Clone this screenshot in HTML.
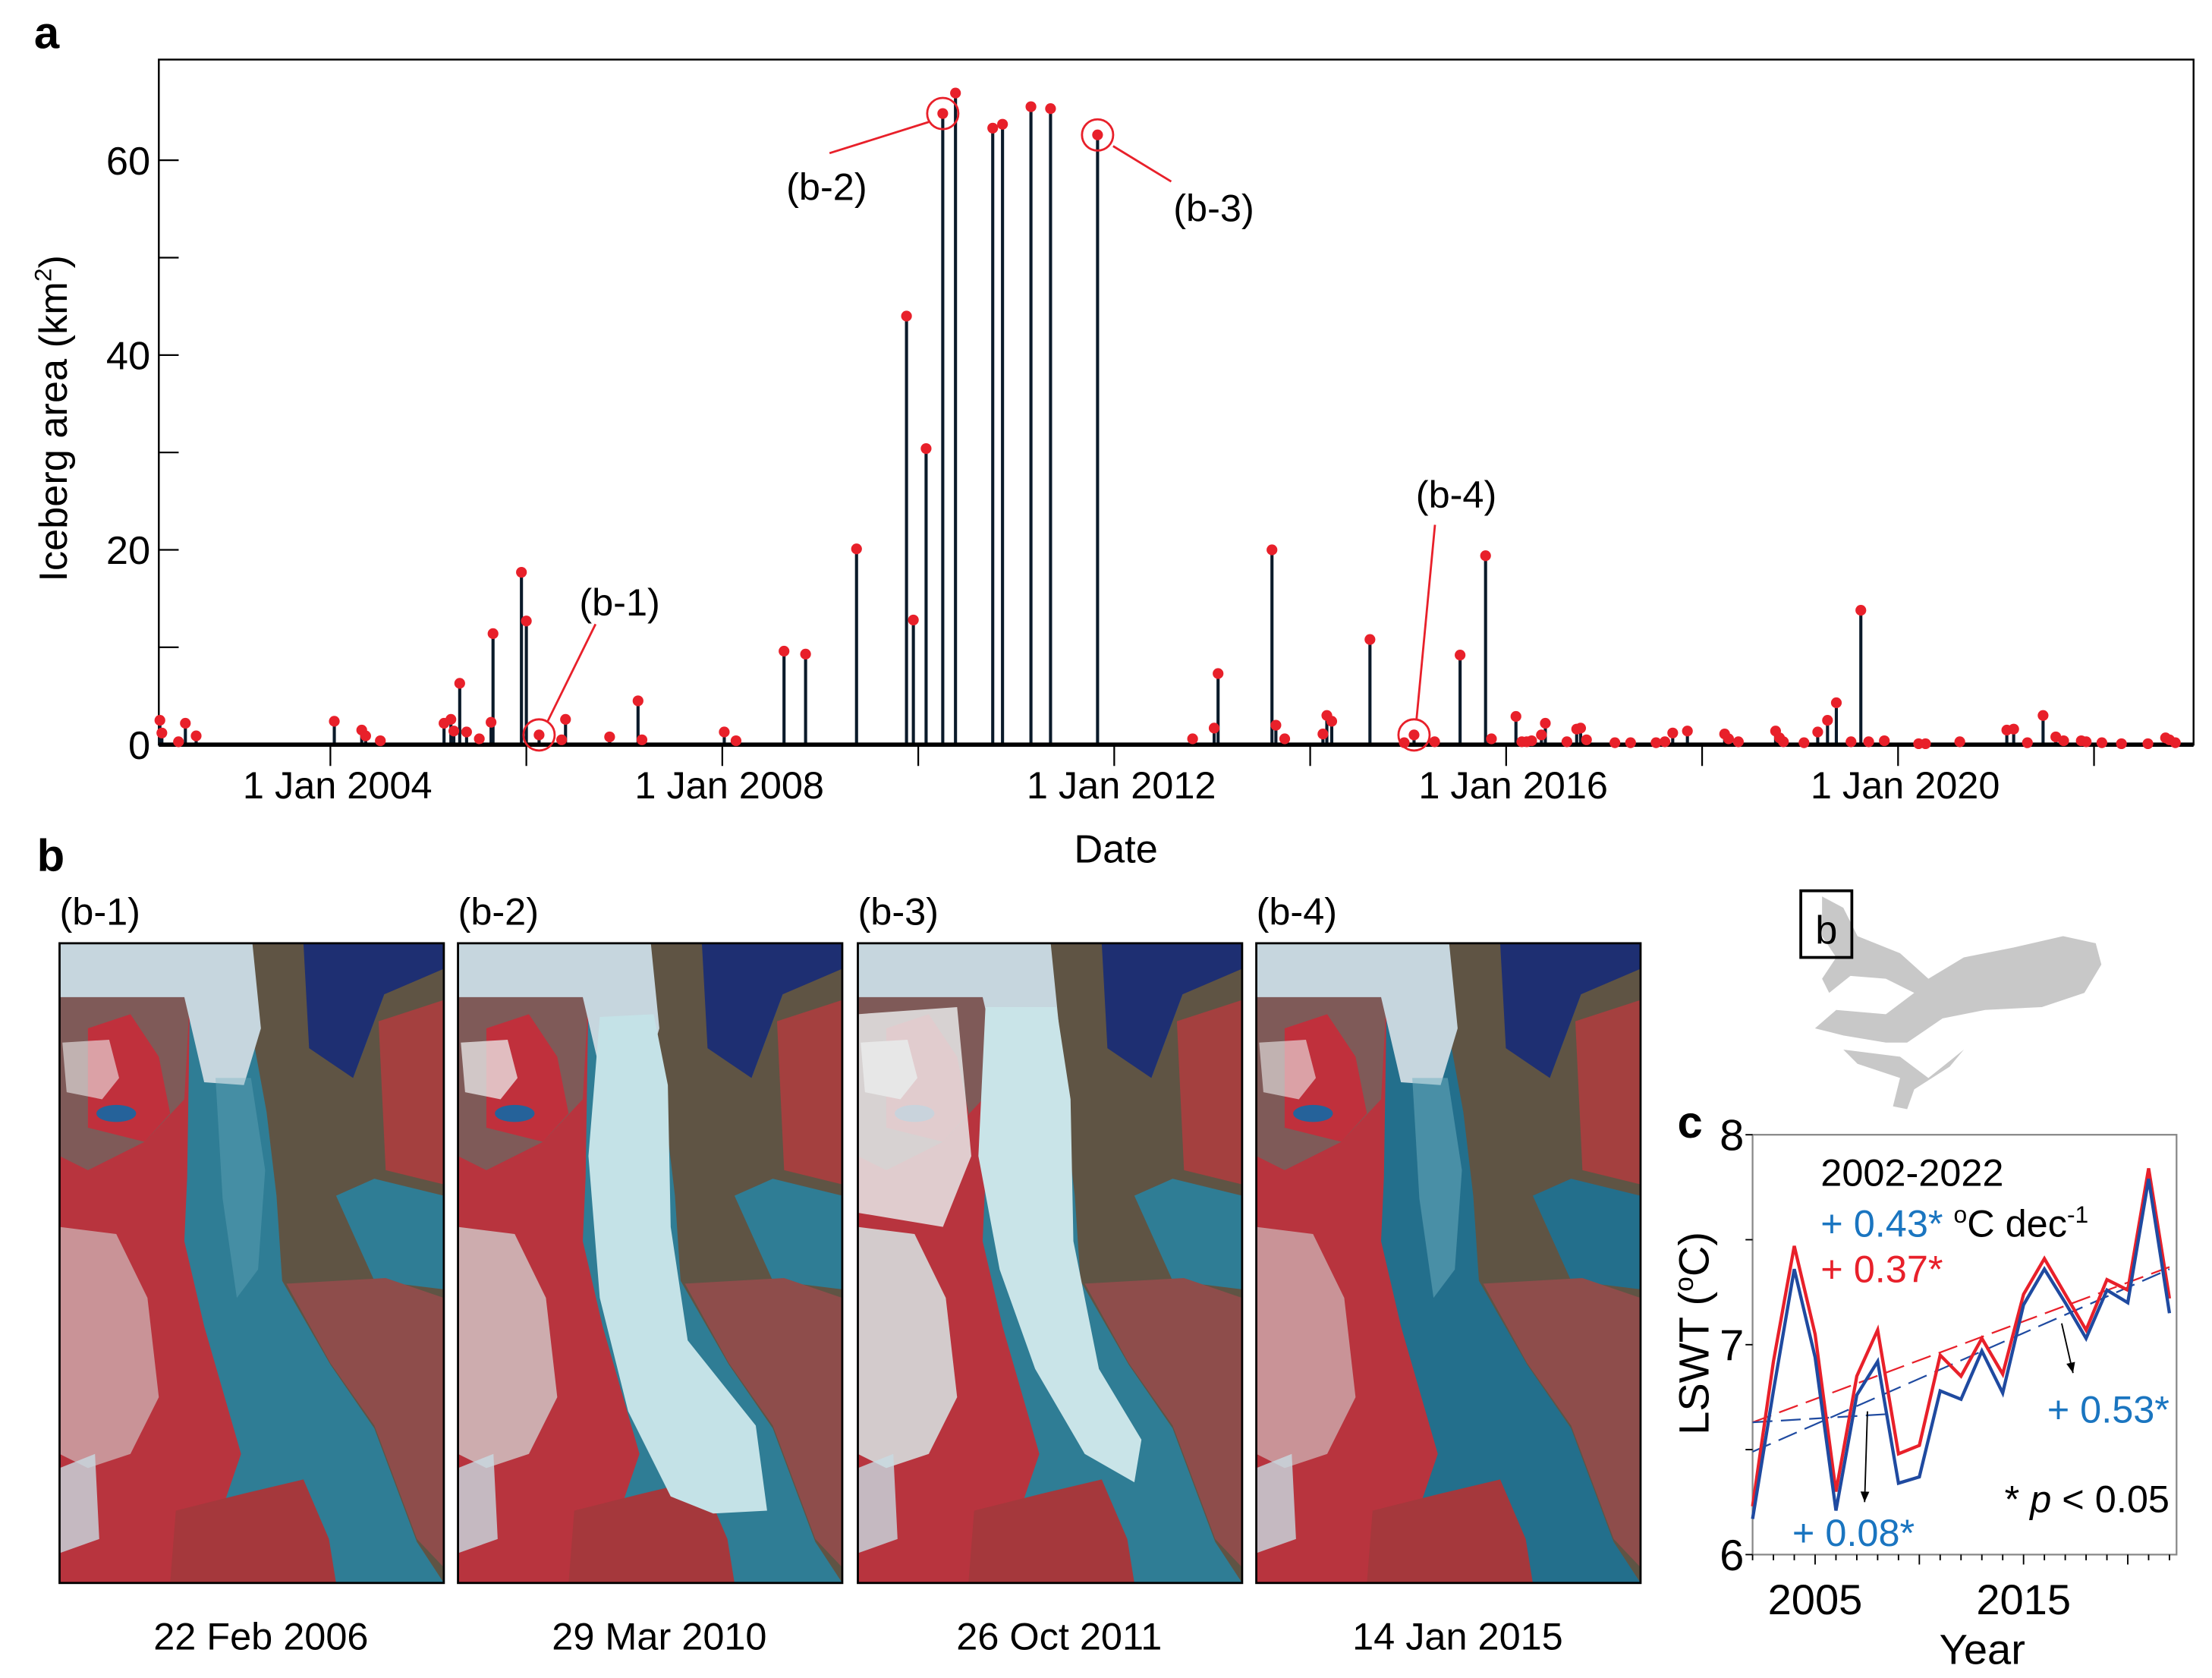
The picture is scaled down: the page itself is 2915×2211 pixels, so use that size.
<!DOCTYPE html>
<html><head><meta charset="utf-8"><style>
html,body{margin:0;padding:0;background:#fff}
svg{display:block;font-family:"Liberation Sans",Arial,sans-serif}
</style></head><body>
<svg id="fig" width="2915" height="2211" viewBox="0 0 1560 1183" preserveAspectRatio="none" xmlns="http://www.w3.org/2000/svg">
<g id="pa"></g>
<g id="pb"></g>
<g id="pc"></g>
</svg>
<script>
// ---- Panel a data ----
const stemYears = [2002.26,2002.28,2002.45,2002.52,2002.63,2004.04,2004.32,2004.36,2004.51,2005.16,2005.23,2005.26,2005.32,2005.39,2005.52,2005.64,2005.66,2005.95,2006.00,2006.13,2006.36,2006.40,2006.85,2007.14,2007.18,2008.02,2008.14,2008.63,2008.85,2009.37,2009.88,2009.95,2010.08,2010.25,2010.38,2010.76,2010.86,2011.15,2011.35,2011.83,2012.80,2013.02,2013.06,2013.61,2013.65,2013.74,2014.13,2014.17,2014.22,2014.61,2014.96,2015.06,2015.27,2015.53,2015.79,2015.85,2016.10,2016.16,2016.21,2016.26,2016.36,2016.40,2016.62,2016.72,2016.76,2016.82,2017.11,2017.27,2017.53,2017.62,2017.70,2017.85,2018.23,2018.27,2018.37,2018.75,2018.79,2018.83,2019.04,2019.18,2019.28,2019.37,2019.52,2019.62,2019.70,2019.86,2020.21,2020.28,2020.63,2021.11,2021.18,2021.32,2021.48,2021.61,2021.69,2021.87,2021.92,2022.08,2022.28,2022.55,2022.73,2022.77,2022.83];
const stemAreas = [2.5,1.2,0.3,2.2,0.9,2.4,1.5,0.9,0.4,2.2,2.6,1.4,6.3,1.3,0.6,2.3,11.4,17.7,12.7,1.0,0.5,2.6,0.8,4.5,0.5,1.3,0.4,9.6,9.3,20.1,44,12.8,30.4,64.8,66.9,63.3,63.7,65.5,65.3,62.6,0.6,1.7,7.3,20.0,2.0,0.6,1.1,3.0,2.4,10.8,0.2,1.0,0.3,9.2,19.4,0.6,2.9,0.3,0.3,0.4,1.0,2.2,0.3,1.6,1.7,0.5,0.2,0.2,0.2,0.3,1.2,1.4,1.1,0.6,0.3,1.4,0.7,0.3,0.2,1.3,2.5,4.3,0.3,13.8,0.3,0.4,0.1,0.1,0.3,1.5,1.6,0.2,3.0,0.8,0.4,0.4,0.3,0.2,0.1,0.1,0.7,0.5,0.2];
const yTicksA = [0,10,20,30,40,50,60];
const yLabelsA = ["0","","20","","40","","60"];
const xTickYearsA = [2004,2006,2008,2010,2012,2014,2016,2018,2020,2022];
const xLabelsA = ["1 Jan 2004","","1 Jan 2008","","1 Jan 2012","","1 Jan 2016","","1 Jan 2020",""];
const calloutYears = [2006.13,2010.25,2011.83,2015.06];
const calloutLabels = ["(b-1)","(b-2)","(b-3)","(b-4)"];

// ---- Panel c data ----
const lsYears = [2002,2003,2004,2005,2006,2007,2008,2009,2010,2011,2012,2013,2014,2015,2016,2017,2018,2019,2020,2021,2022];
const redSeries = [6.23,6.92,7.47,7.05,6.30,6.85,7.07,6.48,6.52,6.95,6.85,7.03,6.86,7.24,7.41,7.24,7.07,7.31,7.26,7.84,7.22];
const blueSeries = [6.17,6.78,7.36,6.94,6.21,6.76,6.92,6.34,6.37,6.78,6.74,6.97,6.77,7.19,7.36,7.20,7.03,7.26,7.20,7.79,7.15];
const redTrend = [[2002,6.63],[2022,7.37]];
const blueTrend = [[2002,6.49],[2022,7.36]];
const blueTrendEarly = [[2002,6.63],[2008.6,6.67]];
const yTicksC = [6,6.5,7,7.5,8];
const yLabelsC = ["6","","7","","8"];
const xLabelYearsC = [2005,2015];

const NS="http://www.w3.org/2000/svg";
function mk(parent,tag,attrs,text){const e=document.createElementNS(NS,tag);for(const k in attrs)e.setAttribute(k,attrs[k]);if(text!==undefined)e.textContent=text;parent.appendChild(e);return e;}

// ===== Panel a =====
const pa=document.getElementById('pa');
const aL=112,aR=1547,aT=42,aB=525;
const xa=y=>233+(y-2004)*69.1;
const ya=v=>aB-v*6.867;
let e;
e=mk(pa,'text',{x:24,y:34,'font-size':32,'font-weight':'bold'},'a');

e=mk(pa,'rect',{x:aL,y:aT,width:aR-aL,height:aB-aT,fill:'none',stroke:'#000','stroke-width':1.3});

yTicksA.forEach((t,i)=>{
  const l=mk(pa,'line',{x1:aL,x2:aL+14,y1:ya(t),y2:ya(t),stroke:'#000','stroke-width':1.2});
  
  if(yLabelsA[i]){const tx=mk(pa,'text',{x:106,y:ya(t)+10,'font-size':28,'text-anchor':'end'},yLabelsA[i]);
  }
});
xTickYearsA.forEach((t,i)=>{
  const l=mk(pa,'line',{x1:xa(t),x2:xa(t),y1:aB,y2:aB+15,stroke:'#000','stroke-width':1.2});
  
  if(xLabelsA[i]){const tx=mk(pa,'text',{x:xa(t)+5,y:563,'font-size':27,'text-anchor':'middle'},xLabelsA[i]);
  }
});
e=mk(pa,'text',{x:787,y:608,'font-size':28,'text-anchor':'middle'},'Date');

e=mk(pa,'text',{transform:'translate(47,295) rotate(-90)','font-size':28,'text-anchor':'middle'});

e.innerHTML='Iceberg area (km<tspan font-size="17" dy="-11">2</tspan><tspan dy="11">)</tspan>';
stemYears.forEach((yr,i)=>{
  const s=mk(pa,'line',{x1:xa(yr),x2:xa(yr),y1:aB,y2:ya(stemAreas[i]),stroke:'#0a1a2a','stroke-width':2.2});
  
});
e=mk(pa,'line',{x1:aL,x2:aR,y1:aB,y2:aB,stroke:'#000','stroke-width':3});

stemYears.forEach((yr,i)=>{
  const d=mk(pa,'circle',{cx:xa(yr),cy:ya(stemAreas[i]),r:3.8,fill:'#e8202a'});
  
});
const callTxt=[[437,434],[583,141],[856,156],[1027,358]];
const callLine=[[420,440,386,509],[585,108,655,86],[785,103,826,128],[1012,370,999,507]];
calloutYears.forEach((yr,i)=>{
  const v=stemAreas[stemYears.indexOf(yr)];
  const c=mk(pa,'circle',{cx:xa(yr),cy:ya(v),r:11,fill:'none',stroke:'#e8202a','stroke-width':1.5});
  
  const l=mk(pa,'line',{x1:callLine[i][0],y1:callLine[i][1],x2:callLine[i][2],y2:callLine[i][3],stroke:'#e8202a','stroke-width':1.5});
  
  const t=mk(pa,'text',{x:callTxt[i][0],y:callTxt[i][1],'font-size':27,'text-anchor':'middle'},calloutLabels[i]);
  
});

// ===== Panel b =====
const pb=document.getElementById('pb');
e=mk(pb,'text',{x:26,y:614,'font-size':32,'font-weight':'bold'},'b');

const imgX=[42,323,605,886];
const imgDates=["22 Feb 2006","29 Mar 2010","26 Oct 2011","14 Jan 2015"];
const defs=mk(document.getElementById('fig'),'defs',{});
imgX.forEach((x0,i)=>{
  const cp=mk(defs,'clipPath',{id:'cl'+i});mk(cp,'rect',{x:0,y:0,width:271,height:451});
  const g=mk(pb,'g',{transform:`translate(${x0},665)`,'clip-path':`url(#cl${i})`});
  
  mk(g,'rect',{x:0,y:0,width:271,height:451,fill:i===3?'#236f8c':'#2f7d95'});
  // left red land
  mk(g,'polygon',{points:'0,36 92,36 90,165 88,210 102,270 128,360 104,430 98,451 0,451',fill:'#b8343e'});
  mk(g,'polygon',{points:'0,36 92,36 88,110 60,140 20,160 0,150',fill:'#7f5a58'});
  mk(g,'polygon',{points:'20,60 50,50 70,80 78,120 60,140 20,130',fill:'#c0303c'});
  mk(g,'ellipse',{cx:40,cy:120,rx:14,ry:6,fill:'#25629a'});
  // snow / cloud on left
  const snowOp=i===2?0.95:(i===1?0.75:0.6);
  mk(g,'polygon',{points:'2,70 35,68 42,95 30,110 5,105',fill:'#ececec',opacity:snowOp});
  mk(g,'polygon',{points:'0,200 40,205 62,250 70,320 50,360 20,370 0,360',fill:'#d4d4d4',opacity:snowOp});
  mk(g,'polygon',{points:'0,370 25,360 28,420 0,430',fill:'#c8dbe2',opacity:0.8});
  if(i===2) mk(g,'polygon',{points:'0,50 70,45 80,150 60,200 0,190',fill:'#e6e8e8',opacity:0.85});
  // bottom island
  mk(g,'polygon',{points:'82,400 130,388 172,378 190,420 195,451 78,451',fill:'#a5383c'});
  // right brown land
  mk(g,'polygon',{points:'136,0 172,0 176,30 207,95 229,36 271,0 271,451 252,422 222,342 191,297 157,238 153,178 146,119 135,59',fill:'#5f5444'});
  mk(g,'polygon',{points:'172,0 271,0 271,18 229,36 207,95 176,74',fill:'#1e2f72'});
  mk(g,'polygon',{points:'195,178 222,166 271,178 271,244 222,238',fill:i===3?'#236f8c':'#2f7d95'});
  mk(g,'polygon',{points:'160,240 230,236 271,250 271,440 252,420 222,340 191,296',fill:'#8e4d4b'});
  mk(g,'polygon',{points:'225,55 271,40 271,170 230,160',fill:'#a4403f'});
  // glacier at top
  mk(g,'polygon',{points:'0,0 136,0 142,60 130,100 102,98 88,38 0,38',fill:'#c6d6de'});
  // ice melange
  if(i===1){
    mk(g,'polygon',{points:'100,52 138,50 148,100 150,200 162,280 210,340 218,400 180,402 150,390 120,330 100,250 92,150',fill:'#c4e2e7'});
  } else if(i===2){
    mk(g,'polygon',{points:'90,45 140,45 150,110 152,210 170,300 200,350 195,380 160,360 125,300 100,230 85,150',fill:'#c9e4e8'});
  } else {
    mk(g,'polygon',{points:'110,95 135,95 145,160 140,230 125,250 115,180',fill:'#6fb0c0',opacity:i===0?0.35:0.5});
  }
  const fr=mk(pb,'rect',{x:x0,y:665,width:271,height:451,fill:'none',stroke:'#000','stroke-width':1.5});
  
  const lt=mk(pb,'text',{x:x0,y:652,'font-size':27},calloutLabels[i]);
  
  const dt=mk(pb,'text',{x:x0+142,y:1163,'font-size':27,'text-anchor':'middle'},imgDates[i]);
  
});
// inset map
e=mk(pb,'path',{d:'M1285,632 L1300,640 L1310,660 L1340,672 L1360,690 L1385,675 L1420,668 L1455,660 L1478,665 L1482,680 L1470,700 L1440,710 L1400,712 L1370,718 L1345,735 L1330,735 L1300,730 L1280,725 L1295,712 L1330,715 L1350,700 L1330,690 L1305,688 L1290,700 L1285,690 L1295,675 L1285,660 Z M1300,740 L1340,745 L1360,760 L1385,740 L1375,752 L1350,768 L1345,782 L1335,780 L1340,760 L1310,750 Z',fill:'#c8c8c8'});

e=mk(pb,'rect',{x:1270,y:628,width:36,height:47,fill:'none',stroke:'#000','stroke-width':2});

e=mk(pb,'text',{x:1288,y:665,'font-size':28,'text-anchor':'middle'},'b');


// ===== Panel c =====
const pc=document.getElementById('pc');
const cL=1236,cR=1535,cT=800,cB=1096;
const xc=y=>cL+(y-2002)*14.7;
const yc=v=>cB-(v-6)*148;
e=mk(pc,'text',{x:1183,y:802,'font-size':32,'font-weight':'bold'},'c');

e=mk(pc,'rect',{x:cL,y:cT,width:cR-cL,height:cB-cT,fill:'none',stroke:'#888','stroke-width':1.2});

yTicksC.forEach((t,i)=>{
  const l=mk(pc,'line',{x1:cL-5,x2:cL,y1:yc(t),y2:yc(t),stroke:'#000','stroke-width':1});
  
  if(yLabelsC[i]){const tx=mk(pc,'text',{x:cL-6,y:yc(t)+11,'font-size':31,'text-anchor':'end'},yLabelsC[i]);
  }
});
lsYears.forEach(yr=>{
  const l=mk(pc,'line',{x1:xc(yr),x2:xc(yr),y1:cB,y2:cB+(yr%5===0?7:4),stroke:'#000','stroke-width':1});
  
});
xLabelYearsC.forEach(yr=>{
  const tx=mk(pc,'text',{x:xc(yr),y:1138,'font-size':30,'text-anchor':'middle'},String(yr));
  
});
e=mk(pc,'text',{x:1398,y:1173,'font-size':30,'text-anchor':'middle'},'Year');

e=mk(pc,'text',{transform:'translate(1205,940) rotate(-90)','font-size':30,'text-anchor':'middle'});

e.innerHTML='LSWT (<tspan font-size="19" dy="-11">o</tspan><tspan dy="11">C)</tspan>';
function trend(pts,color,name,dash){
  const l=mk(pc,'line',{x1:xc(pts[0][0]),y1:yc(pts[0][1]),x2:xc(pts[1][0]),y2:yc(pts[1][1]),stroke:color,'stroke-width':1.2,'stroke-dasharray':dash});
  
}
trend(redTrend,'#e8202a','red-trend-line','14,6');
trend(blueTrend,'#1f4aa0','blue-trend-line','14,6');
trend(blueTrendEarly,'#1f4aa0','blue-trend-early','14,6');
function series(vals,color,name){
  const p=mk(pc,'polyline',{points:vals.map((v,i)=>xc(lsYears[i])+','+yc(v)).join(' '),fill:'none',stroke:color,'stroke-width':2.3});
  
}
series(redSeries,'#e8202a','red-lswt-line');
series(blueSeries,'#1f4aa0','blue-lswt-line');
const ar=[[1317,995,1315,1059],[1454,933,1462,968]];
ar.forEach(a=>{
  const l=mk(pc,'line',{x1:a[0],y1:a[1],x2:a[2],y2:a[3],stroke:'#000','stroke-width':1});
  
  const ang=Math.atan2(a[3]-a[1],a[2]-a[0]);
  const p=[[a[2],a[3]],[a[2]-8*Math.cos(ang-0.4),a[3]-8*Math.sin(ang-0.4)],[a[2]-8*Math.cos(ang+0.4),a[3]-8*Math.sin(ang+0.4)]];
  const h=mk(pc,'polygon',{points:p.map(q=>q.join(',')).join(' '),fill:'#000'});
  
});
function txt(x,y,s,fill,anchor,name,html){
  const t=mk(pc,'text',{x:x,y:y,'font-size':27,fill:fill,'text-anchor':anchor});
  if(html)t.innerHTML=s;else t.textContent=s;
  
}
txt(1284,836,'2002-2022','#000','start','period-label');
txt(1284,872,'<tspan fill="#1a75c0">+ 0.43*</tspan><tspan fill="#000"> <tspan font-size="17" dy="-10">o</tspan><tspan dy="10">C dec</tspan><tspan font-size="17" dy="-10">-1</tspan></tspan>','#000','start','blue-trend-value',true);
txt(1284,904,'+ 0.37*','#e8202a','start','red-trend-value');
txt(1530,1003,'+ 0.53*','#1a75c0','end','late-trend-value');
txt(1530,1066,'* <tspan font-style="italic">p</tspan> &lt; 0.05','#000','end','significance-note',true);
txt(1264,1090,'+ 0.08*','#1a75c0','start','early-trend-value');
</script>
</body></html>
